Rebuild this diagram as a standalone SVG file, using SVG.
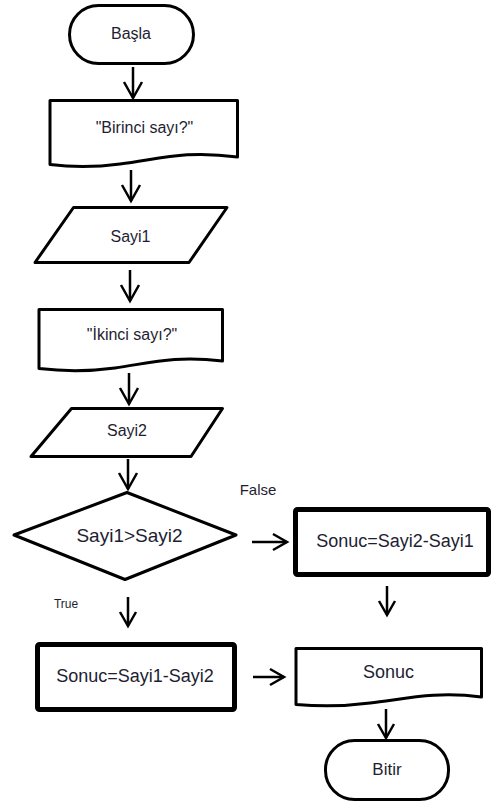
<svg xmlns="http://www.w3.org/2000/svg" width="493" height="804" viewBox="0 0 493 804">
  <style>
    .shape { fill: #ffffff; stroke: #000000; stroke-width: 3; stroke-linejoin: round; }
    .thick { fill: #ffffff; stroke: #000000; stroke-width: 5; stroke-linejoin: round; }
    .lbl { font-family: "Liberation Sans", Arial, sans-serif; fill: #1e1e32; text-anchor: middle; }
    .edge { fill: none; stroke: #000000; stroke-width: 2.5; }
  </style>
  <defs>
    <marker id="arrow" markerUnits="userSpaceOnUse" viewBox="0 0 20 22" markerWidth="20" markerHeight="22" refX="17" refY="11" orient="auto">
      <path d="M1,2 L17,11 L1,20" fill="none" stroke="#000000" stroke-width="2.5" stroke-linejoin="miter"/>
    </marker>
    <marker id="arrowSmall" markerUnits="userSpaceOnUse" viewBox="0 0 20 22" markerWidth="20" markerHeight="22" refX="16" refY="11" orient="auto">
      <path d="M2,3 L16,11 L2,19" fill="none" stroke="#000000" stroke-width="2.5" stroke-linejoin="miter"/>
    </marker>
  </defs>

  <rect width="493" height="804" fill="#ffffff"/>

  <!-- connectors -->
  <g id="connectors">
    <line class="edge" x1="133" y1="67" x2="133" y2="98" marker-end="url(#arrow)"/>
    <line class="edge" x1="131" y1="170" x2="131" y2="201" marker-end="url(#arrow)"/>
    <line class="edge" x1="130" y1="270" x2="130" y2="301" marker-end="url(#arrow)"/>
    <line class="edge" x1="129" y1="373" x2="129" y2="404" marker-end="url(#arrow)"/>
    <line class="edge" x1="128" y1="459" x2="128" y2="489" marker-end="url(#arrow)"/>
    <line class="edge" x1="252" y1="542" x2="287" y2="542" marker-end="url(#arrowSmall)"/>
    <line class="edge" x1="128" y1="597" x2="128" y2="626" marker-end="url(#arrowSmall)"/>
    <line class="edge" x1="387" y1="586" x2="387" y2="615" marker-end="url(#arrowSmall)"/>
    <line class="edge" x1="253" y1="677" x2="284" y2="677" marker-end="url(#arrowSmall)"/>
    <line class="edge" x1="386" y1="709" x2="386" y2="738" marker-end="url(#arrowSmall)"/>
    <text class="lbl" x="258" y="495" font-size="15">False</text>
    <text class="lbl" x="66" y="608" font-size="12">True</text>
  </g>

  <!-- start terminal -->
  <g id="start">
    <rect class="shape" x="69.5" y="5.5" width="124" height="58" rx="29" ry="29"/>
    <text class="lbl" x="131" y="39" font-size="16">Başla</text>
  </g>

  <!-- first prompt (document) -->
  <g id="prompt1">
    <path class="shape" d="M50,100.5 H237.5 V157 C185,150 160,159 120,164 C90,168 70,167 50,164.5 Z"/>
    <text class="lbl" x="144.5" y="133" font-size="16">"Birinci sayı?"</text>
  </g>

  <!-- first input (parallelogram) -->
  <g id="input1">
    <polygon class="shape" points="73.5,207.5 227,207.5 189,262.5 35,262.5"/>
    <text class="lbl" x="130.5" y="242" font-size="16">Sayi1</text>
  </g>

  <!-- second prompt (document) -->
  <g id="prompt2">
    <path class="shape" d="M39,309.5 H222.5 V361 C175,355 150,363 115,368 C85,372 60,371 39,368.5 Z"/>
    <text class="lbl" x="132" y="340" font-size="16">"İkinci sayı?"</text>
  </g>

  <!-- second input (parallelogram) -->
  <g id="input2">
    <polygon class="shape" points="71.5,408.5 222.5,408.5 191,456.5 31,456.5"/>
    <text class="lbl" x="127" y="436" font-size="16">Sayi2</text>
  </g>

  <!-- comparison (decision) -->
  <g id="decision">
    <polygon class="shape" points="127,492.5 236,535 125,579.5 14,535"/>
    <text class="lbl" x="129.5" y="542" font-size="19">Sayi1&gt;Sayi2</text>
  </g>

  <!-- false branch -->
  <g id="calcFalse">
    <rect class="thick" x="295.5" y="509.5" width="193" height="65" rx="2"/>
    <text class="lbl" x="395" y="547" font-size="18">Sonuc=Sayi2-Sayi1</text>
  </g>

  <!-- true branch -->
  <g id="calcTrue">
    <rect class="thick" x="37.5" y="644.5" width="197" height="65" rx="2"/>
    <text class="lbl" x="135" y="682" font-size="18">Sonuc=Sayi1-Sayi2</text>
  </g>

  <!-- output (document) -->
  <g id="output">
    <path class="shape" d="M296,648.5 H481.5 V697 C435,691 405,699 370,703 C340,707 315,706 296,704.5 Z"/>
    <text class="lbl" x="388.5" y="678" font-size="18">Sonuc</text>
  </g>

  <!-- end terminal -->
  <g id="end">
    <rect class="shape" x="325.5" y="740.5" width="123" height="59" rx="29" ry="29"/>
    <text class="lbl" x="387" y="775" font-size="17">Bitir</text>
  </g>
</svg>
